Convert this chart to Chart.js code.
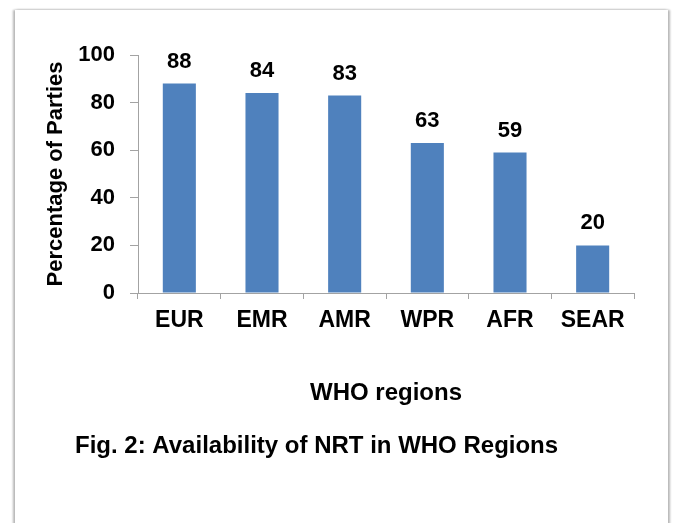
<!DOCTYPE html>
<html>
<head>
<meta charset="utf-8">
<script src="https://cdn.jsdelivr.net/npm/chart.js@4/dist/chart.umd.min.js"></script>
<style>
  html, body { margin: 0; padding: 0; background: #ffffff; overflow: hidden; }
  #frame { position: absolute; left: 15px; top: 10px; width: 653px; height: 560px; background: #fff;
           box-shadow: -2px 0 2px #b8b8b8, 2px 0 2px #b8b8b8, 0 -1px 2px #f0f0f0; }
  #wrap { position: absolute; left: 0; top: 0; width: 675px; height: 523px; }
</style>
</head>
<body>
<div id="frame"></div>
<div id="wrap"><canvas id="c" width="675" height="523"></canvas></div>
<script>
const categories = ["EUR", "EMR", "AMR", "WPR", "AFR", "SEAR"];
const values = [88, 84, 83, 63, 59, 20];
const yTicks = [0, 20, 40, 60, 80, 100];
const xTitle = "WHO regions";
const yTitle = "Percentage of Parties";
const caption = "Fig. 2: Availability of NRT in WHO Regions";

const FONT = "'Liberation Sans', Arial, Helvetica, sans-serif";
const AXIS = "#a3a3a3";

const valueLabels = {
  id: "valueLabels",
  afterDatasetsDraw(chart) {
    const ctx = chart.ctx;
    const meta = chart.getDatasetMeta(0);
    ctx.save();
    ctx.font = "bold 22px " + FONT;
    ctx.fillStyle = "#000";
    ctx.textAlign = "center";
    ctx.textBaseline = "middle";
    meta.data.forEach((bar, i) => {
      ctx.fillText(String(chart.data.datasets[0].data[i]), bar.x, bar.y - 22);
    });
    ctx.restore();
  }
};

const captionPlugin = {
  id: "captionPlugin",
  afterDraw(chart) {
    const ctx = chart.ctx;
    ctx.save();
    ctx.font = "bold 24px " + FONT;
    ctx.fillStyle = "#000";
    ctx.textAlign = "left";
    ctx.textBaseline = "middle";
    ctx.fillText(caption, 75, 446);
    ctx.restore();
  }
};

new Chart(document.getElementById("c"), {
  type: "bar",
  data: {
    labels: categories,
    datasets: [{
      data: values,
      backgroundColor: "#4F81BD",
      borderWidth: 0,
      categoryPercentage: 1.0,
      barPercentage: 0.4
    }]
  },
  options: {
    responsive: false,
    animation: false,
    devicePixelRatio: 1,
    layout: { padding: { left: 20, top: 55, right: 41, bottom: 110 } },
    plugins: { legend: { display: false }, tooltip: { enabled: false }, title: { display: false } },
    scales: {
      x: {
        afterFit(scale) { scale.height = 120; },
        grid: { display: true, drawOnChartArea: false, drawTicks: true, tickLength: 6, color: AXIS, offset: true },
        border: { display: true, color: AXIS, width: 1 },
        ticks: { color: "#000", font: { family: FONT, size: 23, weight: "bold" }, padding: 8 },
        title: { display: true, text: xTitle, color: "#000", font: { family: FONT, size: 24, weight: "bold" }, padding: { top: 0, bottom: 5 } }
      },
      y: {
        min: 0, max: 100,
        afterFit(scale) { scale.width = 118; },
        afterBuildTicks(scale) { scale.ticks = yTicks.map(v => ({ value: v })); },
        grid: { display: true, drawOnChartArea: false, drawTicks: true, tickLength: 8, color: AXIS },
        border: { display: true, color: AXIS, width: 1 },
        ticks: { color: "#000", font: { family: FONT, size: 22, weight: "bold" }, padding: 15 },
        title: { display: true, text: yTitle, color: "#000", font: { family: FONT, size: 22, weight: "bold" }, padding: { top: 23, bottom: 0 } }
      }
    }
  },
  plugins: [valueLabels, captionPlugin]
});
</script>
</body>
</html>
